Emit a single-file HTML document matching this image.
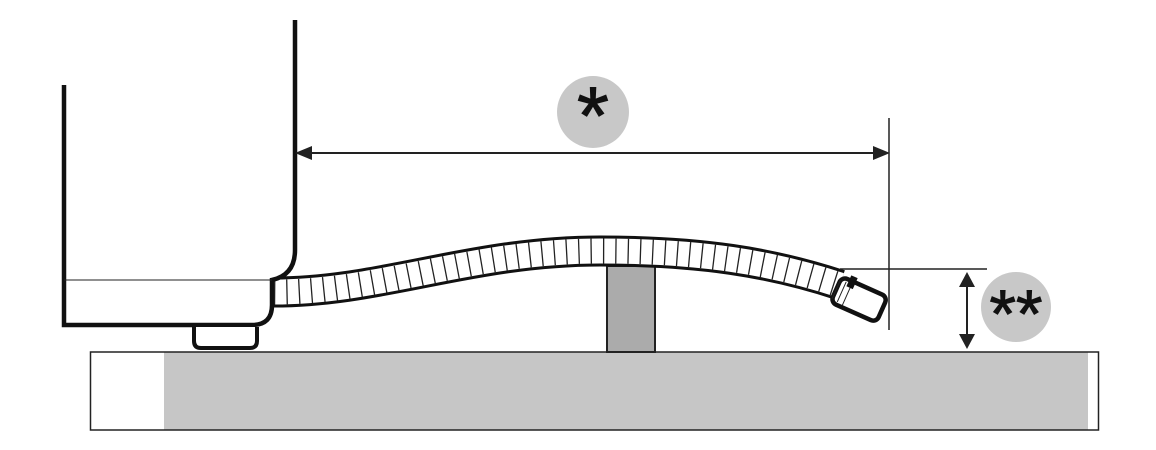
<!DOCTYPE html>
<html><head><style>html,body{margin:0;padding:0;background:#fff}svg{display:block}</style></head>
<body>
<svg width="1156" height="450" viewBox="0 0 1156 450" xmlns="http://www.w3.org/2000/svg">
<!-- floor -->
<rect x="164" y="352" width="924" height="78" fill="#c6c6c6"/>
<rect x="90.5" y="352" width="1008" height="78" fill="none" stroke="#222" stroke-width="1.5"/>
<!-- post -->
<rect x="607" y="266" width="48" height="86" fill="#ababab" stroke="#222" stroke-width="2"/>
<!-- hose -->
<path d="M270,292 C380,293 470,251 600,251 C700,251 770,262 840,285" fill="none" stroke="#111" stroke-width="31"/>
<path d="M270,292 C380,293 470,251 600,251 C700,251 770,262 840,285" fill="none" stroke="#fff" stroke-width="25"/>
<path d="M274,292 C380,293 470,251 600,251 C700,251 770,262 840,285" fill="none" stroke="#222" stroke-width="25" stroke-dasharray="1.3 11"/>
<!-- nozzle -->
<g transform="translate(860,300) rotate(24)">
<rect x="-26" y="-14" width="50" height="28" rx="6" fill="#fff" stroke="#111" stroke-width="4.5"/>
<path d="M-26,-10 v20 M-20,-11 v22 M-14,-12 v24" stroke="#222" stroke-width="1"/>
<rect x="-18" y="-19" width="7" height="12" fill="#111"/>
</g>
<!-- machine -->
<path d="M64,85 V325 H252 Q272,325 272,305 V280 Q295,275 295,250 V20" fill="#fff" stroke="#111" stroke-width="4.5"/>
<line x1="64" y1="280" x2="272" y2="280" stroke="#222" stroke-width="1"/>
<path d="M194,327 V341 Q194,348 201,348 H250 Q257,348 257,341 V327" fill="#fff" stroke="#111" stroke-width="4"/>
<!-- dimension * -->
<line x1="305" y1="153" x2="880" y2="153" stroke="#222" stroke-width="2"/>
<polygon points="295,153 312,146 312,160" fill="#222"/>
<polygon points="890,153 873,146 873,160" fill="#222"/>
<line x1="889" y1="118" x2="889" y2="330" stroke="#222" stroke-width="1.5"/>
<circle cx="593" cy="112" r="36" fill="#c8c8c8"/>
<text x="593" y="144" text-anchor="middle" font-family="Liberation Sans, sans-serif" font-size="82" fill="#111" stroke="#111" stroke-width="1">*</text>
<!-- dimension ** -->
<line x1="840" y1="269" x2="987" y2="269" stroke="#222" stroke-width="1.5"/>
<line x1="967" y1="280" x2="967" y2="340" stroke="#222" stroke-width="2"/>
<polygon points="967,272 959,287 975,287" fill="#222"/>
<polygon points="967,349 959,334 975,334" fill="#222"/>
<circle cx="1016" cy="307" r="35" fill="#c8c8c8"/>
<text x="1016" y="337" text-anchor="middle" font-family="Liberation Sans, sans-serif" font-size="68" fill="#111" stroke="#111" stroke-width="1">**</text>
</svg>
</body></html>
